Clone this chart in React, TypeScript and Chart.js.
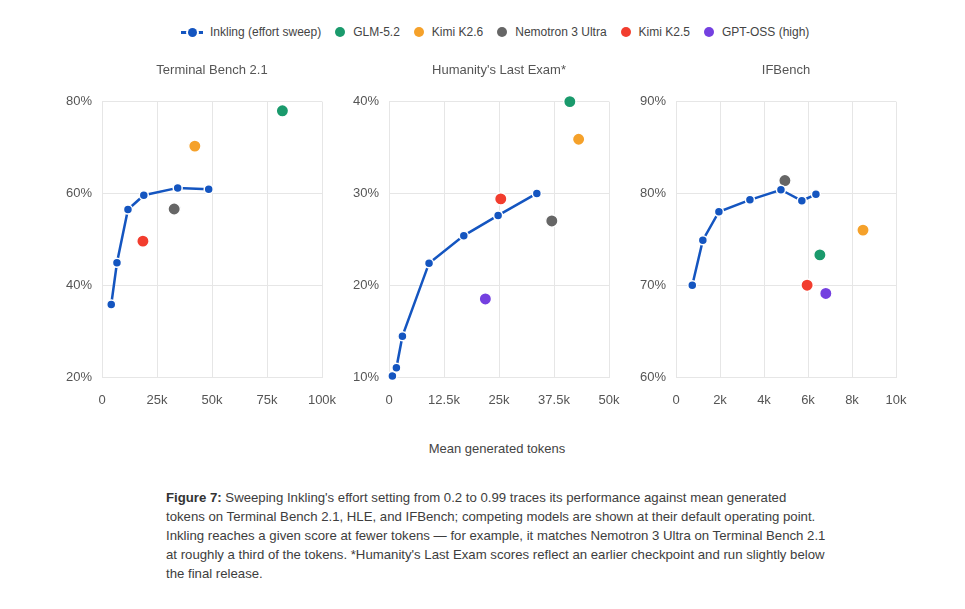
import React, { useEffect, useRef } from "react";
import { Chart, registerables } from "chart.js";

Chart.register(...registerables);

const FONT = "'Liberation Sans', Arial, sans-serif";
const INK_COLOR = "#1455c0";
const TEXT_COLOR = "#555555";
const GRID_COLOR = "#e6e6e6";

const MODEL_NAMES = ["GLM-5.2", "Kimi K2.6", "Nemotron 3 Ultra", "Kimi K2.5", "GPT-OSS (high)"];
const MODEL_COLORS = ["#1a9a6c", "#f5a12a", "#666666", "#f23d2e", "#7440e0"];
const INK_LABEL = "Inkling (effort sweep)";

// Terminal Bench 2.1
const TB_INK_TOKENS = [4200, 6800, 11800, 19000, 34400, 48500];
const TB_INK_SCORES = [35.8, 44.9, 56.5, 59.6, 61.2, 60.9];
const TB_MODEL_TOKENS = [82000, 42200, 32800, 18600, null];
const TB_MODEL_SCORES = [78.0, 70.3, 56.6, 49.6, null];

// Humanity's Last Exam
const HLE_INK_TOKENS = [770, 1680, 3050, 9100, 17000, 24800, 33600];
const HLE_INK_SCORES = [10.1, 11.0, 14.45, 22.4, 25.4, 27.6, 30.0];
const HLE_MODEL_TOKENS = [41100, 43100, 37000, 25400, 21900];
const HLE_MODEL_SCORES = [40.0, 35.9, 27.0, 29.4, 18.5];

// IFBench
const IFB_INK_TOKENS = [740, 1220, 1950, 3360, 4770, 5720, 6360];
const IFB_INK_SCORES = [70.0, 74.9, 78.0, 79.3, 80.4, 79.2, 79.9];
const IFB_MODEL_TOKENS = [6540, 8500, 4950, 5960, 6810];
const IFB_MODEL_SCORES = [73.3, 76.0, 81.4, 70.0, 69.1];

const CAPTION_LINES = [
  "Sweeping Inkling's effort setting from 0.2 to 0.99 traces its performance against mean generated",
  "tokens on Terminal Bench 2.1, HLE, and IFBench; competing models are shown at their default operating point.",
  "Inkling reaches a given score at fewer tokens \u2014 for example, it matches Nemotron 3 Ultra on Terminal Bench 2.1",
  "at roughly a third of the tokens. *Humanity's Last Exam scores reflect an earlier checkpoint and run slightly below",
  "the final release.",
];

type PanelProps = {
  left: number;
  width: number;
  title: string;
  inkX: number[];
  inkY: number[];
  modelX: (number | null)[];
  modelY: (number | null)[];
  xMax: number;
  xStep: number;
  yMin: number;
  yMax: number;
  yStep: number;
};

function fmtK(v: number) {
  if (v === 0) return "0";
  return v / 1000 + "k";
}

function Panel(p: PanelProps) {
  const ref = useRef<HTMLCanvasElement | null>(null);
  useEffect(() => {
    const datasets: any[] = [
      {
        label: INK_LABEL,
        data: p.inkX.map((x, i) => ({ x, y: p.inkY[i] })),
        showLine: true,
        borderColor: INK_COLOR,
        borderWidth: 2.5,
        pointRadius: 4.5,
        pointBackgroundColor: INK_COLOR,
        pointBorderColor: "#ffffff",
        pointBorderWidth: 1.5,
        clip: false,
      },
    ];
    MODEL_NAMES.forEach((name, i) => {
      const x = p.modelX[i];
      const y = p.modelY[i];
      if (x == null || y == null) return;
      datasets.push({
        label: name,
        data: [{ x, y }],
        pointRadius: 6.2,
        backgroundColor: MODEL_COLORS[i],
        borderColor: "#ffffff",
        borderWidth: 1.5,
        clip: false,
      });
    });
    const chart = new Chart(ref.current as HTMLCanvasElement, {
      type: "scatter",
      data: { datasets },
      options: {
        responsive: false,
        animation: false,
        events: [],
        layout: { padding: { left: 0, right: 0, top: 0, bottom: 0 } },
        plugins: {
          legend: { display: false },
          tooltip: { enabled: false },
          title: {
            display: true,
            text: p.title,
            fullSize: false,
            color: TEXT_COLOR,
            font: { family: FONT, size: 13, weight: "normal" },
            padding: { top: 8, bottom: 23 },
          },
        },
        scales: {
          x: {
            type: "linear",
            min: 0,
            max: p.xMax,
            afterFit: (s: any) => {
              s.height = 38;
              s.paddingRight = 15;
              s.paddingLeft = 0;
            },
            ticks: {
              stepSize: p.xStep,
              padding: 16,
              color: TEXT_COLOR,
              font: { family: FONT, size: 13 },
              callback: (v: any) => fmtK(Number(v)),
            },
            grid: { color: GRID_COLOR, drawTicks: false },
            border: { color: GRID_COLOR },
          },
          y: {
            type: "linear",
            min: p.yMin,
            max: p.yMax,
            afterFit: (s: any) => {
              s.width = 50;
            },
            ticks: {
              stepSize: p.yStep,
              padding: 10,
              color: TEXT_COLOR,
              font: { family: FONT, size: 13 },
              callback: (v: any) => v + "%",
            },
            grid: { color: GRID_COLOR, drawTicks: false },
            border: { color: GRID_COLOR },
          },
        },
      },
    } as any);
    return () => chart.destroy();
  }, []);
  return (
    <div style={{ position: "absolute", left: p.left, top: 55, width: p.width, height: 360 }}>
      <canvas ref={ref} width={p.width} height={360} style={{ display: "block" }} />
    </div>
  );
}

function LegendDot({ color }: { color: string }) {
  return (
    <span
      style={{
        display: "inline-block",
        width: 10,
        height: 10,
        borderRadius: "50%",
        background: color,
        marginRight: 8,
      }}
    />
  );
}

export default function App() {
  return (
    <div
      style={{
        position: "fixed",
        left: 0,
        top: 0,
        width: 965,
        height: 609,
        background: "#ffffff",
        fontFamily: FONT,
        overflow: "hidden",
      }}
    >
      <div
        style={{
          position: "absolute",
          left: 181,
          top: 24,
          height: 16,
          display: "flex",
          alignItems: "center",
          fontSize: 12,
          color: "#444",
          whiteSpace: "nowrap",
        }}
      >
        <span style={{ display: "inline-flex", alignItems: "center", marginRight: 14 }}>
          <span style={{ position: "relative", display: "inline-block", width: 22, height: 10, marginRight: 7 }}>
            <span
              style={{
                position: "absolute",
                left: 0,
                top: 4,
                width: 22,
                height: 2.5,
                background: INK_COLOR,
              }}
            />
            <span
              style={{
                position: "absolute",
                left: 6.5,
                top: 0.5,
                width: 9,
                height: 9,
                borderRadius: "50%",
                background: INK_COLOR,
                boxShadow: "0 0 0 2px #fff",
              }}
            />
          </span>
          {INK_LABEL}
        </span>
        {MODEL_NAMES.map((n, i) => (
          <span key={n} style={{ display: "inline-flex", alignItems: "center", marginRight: 14 }}>
            <LegendDot color={MODEL_COLORS[i]} />
            {n}
          </span>
        ))}
      </div>

      <Panel
        left={52}
        width={285}
        title="Terminal Bench 2.1"
        inkX={TB_INK_TOKENS}
        inkY={TB_INK_SCORES}
        modelX={TB_MODEL_TOKENS}
        modelY={TB_MODEL_SCORES}
        xMax={100000}
        xStep={25000}
        yMin={20}
        yMax={80}
        yStep={20}
      />
      <Panel
        left={339}
        width={285}
        title="Humanity's Last Exam*"
        inkX={HLE_INK_TOKENS}
        inkY={HLE_INK_SCORES}
        modelX={HLE_MODEL_TOKENS}
        modelY={HLE_MODEL_SCORES}
        xMax={50000}
        xStep={12500}
        yMin={10}
        yMax={40}
        yStep={10}
      />
      <Panel
        left={626}
        width={285}
        title="IFBench"
        inkX={IFB_INK_TOKENS}
        inkY={IFB_INK_SCORES}
        modelX={IFB_MODEL_TOKENS}
        modelY={IFB_MODEL_SCORES}
        xMax={10000}
        xStep={2000}
        yMin={60}
        yMax={90}
        yStep={10}
      />

      <div
        style={{
          position: "absolute",
          left: 347,
          width: 300,
          top: 441,
          textAlign: "center",
          fontSize: 13,
          lineHeight: "16px",
          color: "#444",
        }}
      >
        Mean generated tokens
      </div>

      <div
        style={{
          position: "absolute",
          left: 166,
          top: 488,
          fontSize: 13.2,
          lineHeight: "19px",
          color: "#3d3d3d",
          whiteSpace: "nowrap",
        }}
      >
        {CAPTION_LINES.map((line, i) => (
          <div key={i}>
            {i === 0 ? <b style={{ color: "#333" }}>Figure 7: </b> : null}
            {line}
          </div>
        ))}
      </div>
    </div>
  );
}
